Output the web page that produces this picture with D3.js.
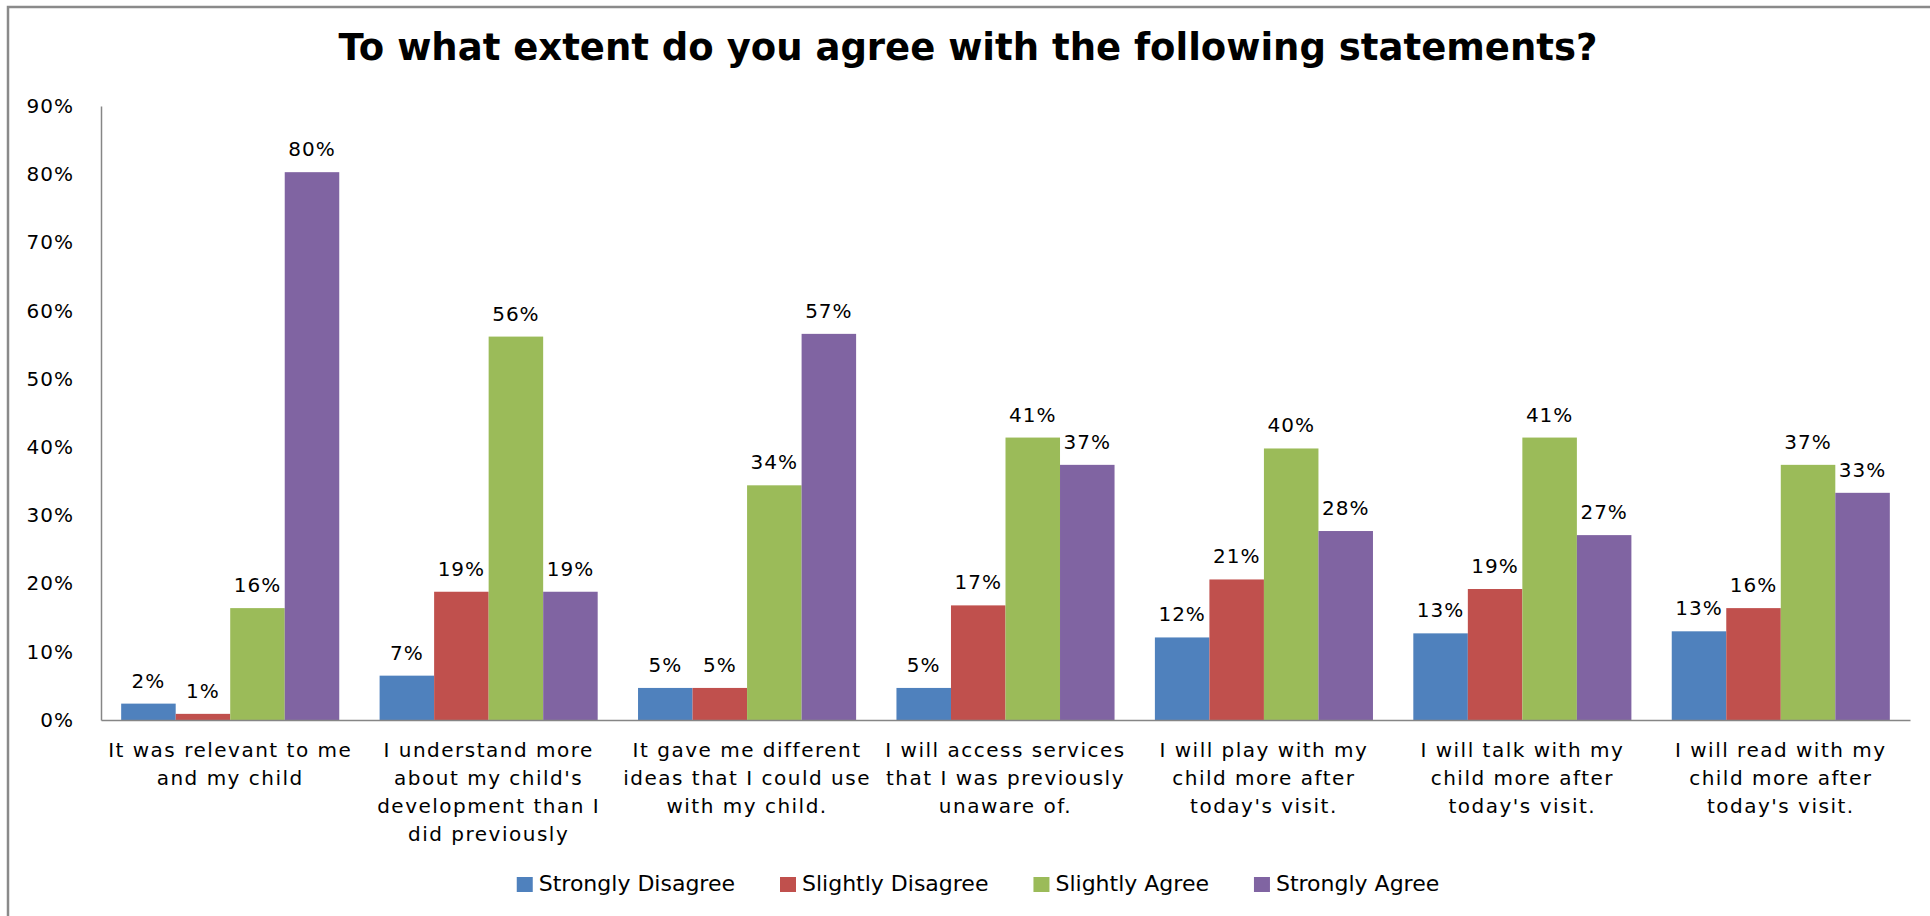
<!DOCTYPE html>
<html>
<head>
<meta charset="utf-8">
<script src="https://cdn.jsdelivr.net/npm/d3@7"></script>
<style>
  body { margin: 0; background: #fff; }
  text { font-family: "DejaVu Sans", sans-serif; fill: #000; }
</style>
</head>
<body>
<svg id="chart" width="1930" height="916"></svg>
<script>
// DATA
const categories = [
  ["It was relevant to me", "and my child"],
  ["I understand more", "about my child's", "development than I", "did previously"],
  ["It gave me different", "ideas that I could use", "with my child."],
  ["I will access services", "that I was previously", "unaware of."],
  ["I will play with my", "child more after", "today's visit."],
  ["I will talk with my", "child more after", "today's visit."],
  ["I will read with my", "child more after", "today's visit."]
];
const seriesNames = ["Strongly Disagree", "Slightly Disagree", "Slightly Agree", "Strongly Agree"];
const stronglyDisagree = [0.024, 0.065, 0.047, 0.047, 0.121, 0.127, 0.130];
const slightlyDisagree = [0.009, 0.188, 0.047, 0.168, 0.206, 0.192, 0.164];
const slightlyAgree    = [0.164, 0.562, 0.344, 0.414, 0.398, 0.414, 0.374];
const stronglyAgree    = [0.803, 0.188, 0.566, 0.374, 0.277, 0.271, 0.333];
const yTicks = [0, 0.1, 0.2, 0.3, 0.4, 0.5, 0.6, 0.7, 0.8, 0.9];
const colors = ["#4F81BD", "#C0504D", "#9BBB59", "#8064A2"];

const allSeries = [stronglyDisagree, slightlyDisagree, slightlyAgree, stronglyAgree];

const svg = d3.select("#chart");
const plot = {left: 101, right: 1910, top: 106, bottom: 720};

// frame (only top and left edges are visible in the source)
svg.append("path")
  .attr("d", "M8,916 V7 H1930")
  .attr("fill", "none")
  .attr("stroke", "#8a8a8a")
  .attr("stroke-width", 2.5);

svg.append("text")
  .attr("x", 968)
  .attr("y", 60)
  .attr("text-anchor", "middle")
  .attr("font-size", "37px")
  .attr("font-weight", "bold")
  .text("To what extent do you agree with the following statements?");

const yValues = d3.scaleLinear().domain([0, 0.9]).range([plot.bottom, plot.top]);
const xKeys = d3.range(categories.length);
const xValues = d3.scaleBand().domain(xKeys).range([plot.left, plot.right]).padding(0);
const xInner = d3.scaleBand().domain(d3.range(seriesNames.length))
  .range([0, xValues.bandwidth()])
  .paddingInner(0)
  .paddingOuter(0.37);

// y axis
const yAxis = svg.append("g")
  .attr("transform", "translate(" + plot.left + ",0)")
  .call(d3.axisLeft(yValues).tickValues(yTicks).tickSize(0).tickSizeOuter(0).tickPadding(27).tickFormat(d3.format(".0%")));
yAxis.select(".domain").attr("stroke", "#868686").attr("stroke-width", 1.5);
yAxis.selectAll("text")
  .attr("font-size", "20px")
  .attr("font-family", "DejaVu Sans")
  .attr("letter-spacing", "1px")
  .attr("fill", "#000");

// bars
const series = svg.selectAll(".series")
  .data(allSeries)
  .enter().append("g")
    .attr("class", "series")
    .attr("fill", function(d, i) { return colors[i]; });

series.each(function(values, s) {
  const g = d3.select(this);
  g.selectAll("rect")
    .data(values)
    .enter().append("rect")
      .attr("x", function(d, i) { return xValues(i) + xInner(s); })
      .attr("y", function(d) { return yValues(d); })
      .attr("width", xInner.bandwidth())
      .attr("height", function(d) { return yValues(0) - yValues(d); });

  g.selectAll("text")
    .data(values)
    .enter().append("text")
      .attr("x", function(d, i) { return xValues(i) + xInner(s) + xInner.bandwidth() / 2; })
      .attr("y", function(d) { return yValues(d) - 16; })
      .attr("text-anchor", "middle")
      .attr("font-size", "20px")
      .attr("letter-spacing", "1px")
      .attr("fill", "#000")
      .text(function(d) { return Math.round(d * 100) + "%"; });
});

// x axis
const xAxis = svg.append("g")
  .attr("transform", "translate(0," + plot.bottom + ")")
  .call(d3.axisBottom(xValues).tickSize(0).tickSizeOuter(0).tickFormat(""));
xAxis.select(".domain").attr("stroke", "#868686").attr("stroke-width", 1.5);

xAxis.selectAll(".tick text").remove();
xAxis.selectAll(".tick").each(function(k) {
  const t = d3.select(this).append("text")
    .attr("text-anchor", "middle")
    .attr("font-size", "20px")
    .attr("letter-spacing", "1.5px")
    .attr("fill", "#000");
  categories[k].forEach(function(line, j) {
    t.append("tspan")
      .attr("x", 0)
      .attr("y", 37 + j * 28)
      .text(line);
  });
});

// legend
const legend = svg.append("g").attr("transform", "translate(0,0)");
let lx = 0;
seriesNames.forEach(function(name, i) {
  const item = legend.append("g").attr("transform", "translate(" + lx + ",0)");
  item.append("rect")
    .attr("x", 0).attr("y", 877)
    .attr("width", 16).attr("height", 15)
    .attr("fill", colors[i]);
  const txt = item.append("text")
    .attr("x", 22).attr("y", 891)
    .attr("font-size", "22px")
    .text(name);
  lx += 22 + txt.node().getComputedTextLength() + 45;
});
const legendWidth = lx - 45;
legend.attr("transform", "translate(" + (978 - legendWidth / 2) + ",0)");
</script>
</body>
</html>
